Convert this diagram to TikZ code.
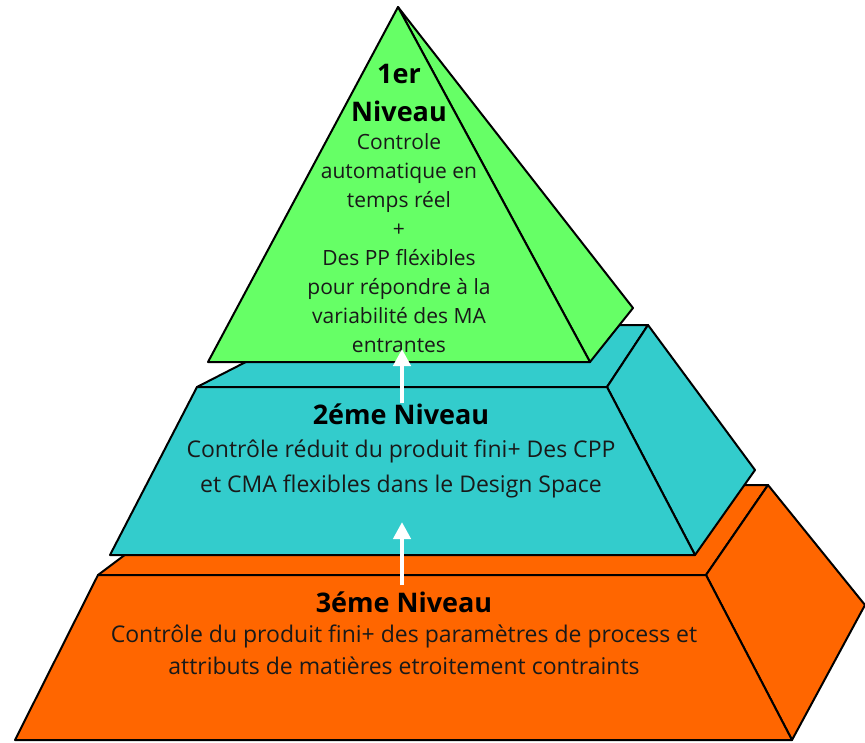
\documentclass[tikz,border=0pt]{standalone}
\usepackage{fontspec}
\setmainfont{Open Sans}
\usetikzlibrary{arrows.meta}
\definecolor{tierGreen}{RGB}{102,255,102}
\definecolor{tierTeal}{RGB}{51,204,204}
\definecolor{tierOrange}{RGB}{255,102,0}
\tikzset{
  face/.style={draw=black, line width=2pt, line join=round},
  heading/.style={inner sep=0pt, align=center, font=\bfseries\fontsize{27}{38}\selectfont},
  body/.style={inner sep=0pt, align=center, text=black!90},
  uparrow/.style={draw=white, line width=4.5pt, -{Triangle[width=17pt,length=17pt]}}
}
\begin{document}
\begin{tikzpicture}[x=1pt,y=-1pt]
\useasboundingbox (0,0) rectangle (865,742);

% bottom tier
\fill[tierOrange, face] (98,575) -- (218,485) -- (768,485) -- (706,575) -- cycle;
\fill[tierOrange, face] (706,575) -- (768,485) -- (865,605) -- (792,740) -- cycle;
\fill[tierOrange, face] (98,575) -- (706,575) -- (792,740) -- (15,740) -- cycle;

% middle tier
\fill[tierTeal, face] (197,387) -- (318,325) -- (648,325) -- (607,387) -- cycle;
\fill[tierTeal, face] (607,387) -- (648,325) -- (755,470) -- (695,555) -- cycle;
\fill[tierTeal, face] (197,387) -- (607,387) -- (695,555) -- (110,555) -- cycle;

% top tier
\fill[tierGreen, face] (398,7) -- (633,308) -- (590,362) -- cycle;
\fill[tierGreen, face] (398,7) -- (590,362) -- (208,362) -- cycle;

% labels of the top tier (base anchor = baseline of the last line)
\node[heading, anchor=base] (h1) at (399,121) {1er\\Niveau};
\node[body, anchor=base, font=\fontsize{21}{29}\selectfont] (b1) at (399,352)
  {Controle\\automatique en\\temps réel\\+\\Des PP fléxibles\\pour répondre à la\\variabilité des MA\\entrantes};

% labels of the middle tier
\node[heading, anchor=base] (h2) at (401,424) {2éme Niveau};
\node[body, anchor=base, font=\fontsize{23}{35}\selectfont] (b2) at (401,492)
  {Contrôle réduit du produit fini+ Des CPP\\et CMA flexibles dans le Design Space};

% labels of the bottom tier
\node[heading, anchor=base] (h3) at (404,612) {3éme Niveau};
\node[body, anchor=base, font=\fontsize{23}{32}\selectfont] (b3) at (404,674)
  {Contrôle du produit fini+ des paramètres de process et\\attributs de matières etroitement contraints};

% upward arrows between tiers
\coordinate (a1s) at (402,585);
\coordinate (a1e) at (402,522);
\coordinate (a2s) at (402,403);
\coordinate (a2e) at (402,349);
\draw[uparrow] (a1s) -- (a1e);
\draw[uparrow] (a2s) -- (a2e);
\end{tikzpicture}
\end{document}
